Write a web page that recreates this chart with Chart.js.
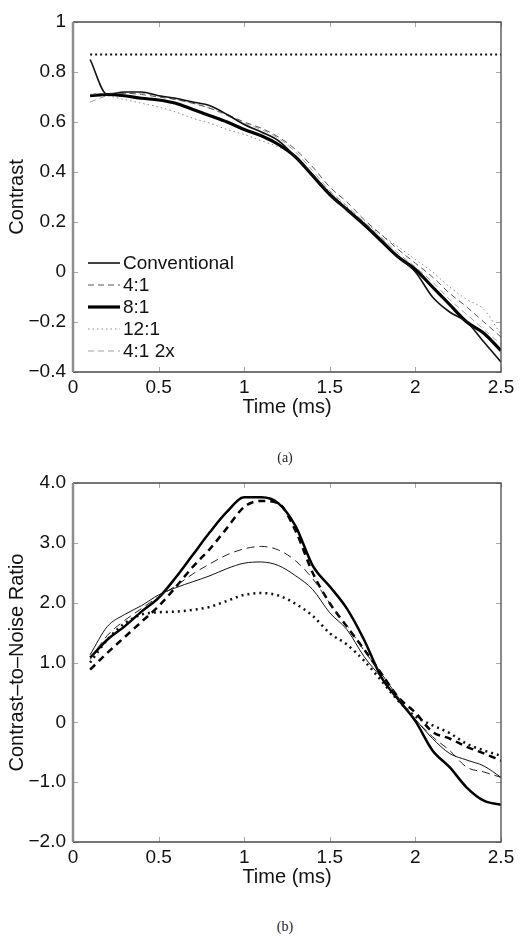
<!DOCTYPE html>
<html>
<head>
<meta charset="utf-8">
<script src="https://cdn.jsdelivr.net/npm/chart.js@4.4.0/dist/chart.umd.min.js"></script>
<style>
body { margin: 0; background: #fff; }
#wrap { position: relative; width: 529px; height: 946px; overflow: hidden; }
canvas { position: absolute; left: 0; }
.cap { position: absolute; left: 0; width: 570px; text-align: center; font-family: "Liberation Serif", "DejaVu Serif", serif; font-size: 14px; color: #222; line-height: 18px; }
</style>
</head>
<body>
<div id="wrap">
  <canvas id="contrastChart" width="529" height="420" style="top:0"></canvas>
  <canvas id="cnrChart" width="529" height="450" style="top:440px"></canvas>
  <div class="cap" style="top:449px">(a)</div>
  <div class="cap" style="top:918px">(b)</div>
</div>
<script>
// time axis shared by every curve (ms)
const timeMs = [0.1, 0.2, 0.3, 0.4, 0.5, 0.6, 0.7, 0.8, 0.9, 1.0, 1.1, 1.2, 1.3,
                1.4, 1.5, 1.6, 1.7, 1.8, 1.9, 2.0, 2.1, 2.2, 2.3, 2.4, 2.5];

// (a) contrast
const contrastConventional = [0.85, 0.71, 0.72, 0.72, 0.705, 0.695, 0.68, 0.665, 0.63, 0.59, 0.56, 0.525, 0.46,
                              0.39, 0.31, 0.25, 0.19, 0.13, 0.06, 0.0, -0.10, -0.16, -0.20, -0.28, -0.36];
const contrast4to1 = [0.71, 0.715, 0.715, 0.71, 0.70, 0.69, 0.675, 0.655, 0.63, 0.60, 0.575, 0.54, 0.49,
                      0.42, 0.34, 0.28, 0.21, 0.15, 0.09, 0.035, -0.02, -0.085, -0.14, -0.20, -0.26];
const contrast8to1 = [0.705, 0.71, 0.705, 0.695, 0.688, 0.675, 0.65, 0.625, 0.60, 0.57, 0.545, 0.51, 0.46,
                      0.385, 0.31, 0.25, 0.19, 0.125, 0.06, 0.01, -0.06, -0.13, -0.20, -0.245, -0.315];
const contrast12to1 = [0.71, 0.705, 0.69, 0.675, 0.66, 0.64, 0.615, 0.595, 0.57, 0.55, 0.525, 0.50, 0.46,
                       0.39, 0.32, 0.26, 0.20, 0.15, 0.10, 0.05, 0.0, -0.06, -0.11, -0.15, -0.25];
const contrast4to1x2 = [0.68, 0.705, 0.715, 0.715, 0.705, 0.69, 0.675, 0.655, 0.625, 0.595, 0.57, 0.535, 0.48,
                        0.405, 0.325, 0.265, 0.20, 0.14, 0.075, 0.02, -0.04, -0.11, -0.17, -0.23, -0.29];
const refTime = [0.1, 2.5];
const refContrast = [0.87, 0.87];

// (b) contrast-to-noise ratio
const cnrConventional = [1.13, 1.60, 1.80, 1.95, 2.13, 2.25, 2.35, 2.45, 2.57, 2.66, 2.68, 2.62, 2.45,
                         2.22, 1.83, 1.55, 1.10, 0.75, 0.38, 0.05, -0.27, -0.52, -0.63, -0.73, -0.92];
const cnr4to1 = [1.05, 1.45, 1.70, 1.90, 2.10, 2.28, 2.48, 2.65, 2.80, 2.90, 2.94, 2.88, 2.70,
                 2.40, 1.99, 1.62, 1.20, 0.82, 0.42, 0.05, -0.24, -0.47, -0.75, -0.83, -0.92];
const cnr8to1 = [1.08, 1.38, 1.60, 1.85, 2.08, 2.42, 2.80, 3.18, 3.52, 3.76, 3.76, 3.66, 3.28,
                 2.62, 2.27, 1.90, 1.38, 0.76, 0.38, 0.02, -0.47, -0.75, -1.09, -1.31, -1.38];
const cnr12to1 = [1.0, 1.38, 1.65, 1.80, 1.84, 1.85, 1.88, 1.93, 2.03, 2.13, 2.16, 2.12, 1.98,
                  1.78, 1.49, 1.30, 1.03, 0.70, 0.36, 0.10, -0.05, -0.18, -0.36, -0.47, -0.56];
const cnr4to1x2 = [0.88, 1.16, 1.42, 1.68, 1.94, 2.26, 2.60, 2.90, 3.25, 3.60, 3.70, 3.66, 3.20,
                   2.50, 1.99, 1.60, 1.22, 0.82, 0.42, 0.16, -0.16, -0.27, -0.41, -0.52, -0.64];

const FONT = '"Liberation Sans", Arial, Helvetica, sans-serif';

function pts(xs, ys) {
    return xs.map((t, i) => ({ x: t, y: ys[i] }));
}

function tickText(v, oneDecimal) {
    const r = Math.round(v * 10) / 10;
    if (r === 0) return '0';
    let s = oneDecimal ? r.toFixed(1) : String(r);
    return s.replace('-', '\u2212');
}

// box around the plot with small inward ticks on all four sides
const framePlugin = {
    id: 'frame',
    afterDatasetsDraw(chart) {
        const { ctx, chartArea: a, scales } = chart;
        const x = scales.x, y = scales.y;
        ctx.save();
        ctx.setLineDash([]);
        ctx.strokeStyle = '#a8a8a8';
        ctx.lineWidth = 1;
        x.ticks.forEach(t => {
            const px = Math.round(x.getPixelForValue(t.value)) + 0.5;
            ctx.beginPath();
            ctx.moveTo(px, a.bottom); ctx.lineTo(px, a.bottom - 5);
            ctx.moveTo(px, a.top); ctx.lineTo(px, a.top + 5);
            ctx.stroke();
        });
        y.ticks.forEach(t => {
            const py = Math.round(y.getPixelForValue(t.value)) + 0.5;
            ctx.beginPath();
            ctx.moveTo(a.left, py); ctx.lineTo(a.left + 5, py);
            ctx.moveTo(a.right, py); ctx.lineTo(a.right - 5, py);
            ctx.stroke();
        });
        ctx.strokeStyle = '#4a4a4a';
        ctx.lineWidth = 1.3;
        ctx.beginPath();
        ctx.moveTo(a.left, a.top); ctx.lineTo(a.right, a.top);
        ctx.lineTo(a.right, a.bottom); ctx.lineTo(a.left, a.bottom);
        ctx.stroke();
        ctx.strokeStyle = '#8e8e8e';
        ctx.lineWidth = 2.5;
        ctx.beginPath();
        ctx.moveTo(a.left, a.top); ctx.lineTo(a.left, a.bottom);
        ctx.stroke();
        ctx.restore();
    }
};

// legend drawn inside the plot, lower left
const insideLegend = {
    id: 'insideLegend',
    afterDraw(chart) {
        const o = chart.options.plugins.insideLegend;
        if (!o || !o.show) return;
        const { ctx, chartArea: a } = chart;
        ctx.save();
        ctx.font = '19px ' + FONT;
        ctx.textBaseline = 'middle';
        ctx.fillStyle = '#111';
        chart.data.datasets.filter(d => !d.noLegend).forEach((d, i) => {
            const yy = a.bottom - o.fromBottom + i * o.rowHeight;
            const x0 = a.left + o.left;
            ctx.strokeStyle = d.borderColor;
            ctx.lineWidth = d.borderWidth;
            ctx.setLineDash(d.borderDash || []);
            ctx.beginPath();
            ctx.moveTo(x0, yy); ctx.lineTo(x0 + o.lineLen, yy);
            ctx.stroke();
            ctx.fillText(d.label, x0 + o.lineLen + 3, yy + 1);
        });
        ctx.restore();
    }
};

function line(label, xs, ys, color, width, dash, extra) {
    return Object.assign({
        label: label,
        data: pts(xs, ys),
        borderColor: color,
        borderWidth: width,
        borderDash: dash,
        pointRadius: 0,
        fill: false,
        cubicInterpolationMode: 'monotone'
    }, extra || {});
}

function makeOptions(cfg) {
    return {
        responsive: false,
        animation: false,
        events: [],
        layout: { padding: { left: 0, right: 28, top: cfg.top, bottom: 0 } },
        plugins: {
            legend: { display: false },
            tooltip: { enabled: false },
            insideLegend: cfg.legend
        },
        scales: {
            x: {
                type: 'linear',
                min: 0, max: 2.5,
                grid: { display: false, drawTicks: false },
                border: { display: false },
                ticks: {
                    stepSize: 0.5,
                    padding: 4,
                    color: '#111',
                    font: { family: FONT, size: 19 },
                    maxRotation: 0,
                    callback: v => tickText(v, false)
                },
                title: {
                    display: true,
                    text: 'Time (ms)',
                    color: '#111',
                    font: { family: FONT, size: 20 },
                    padding: { top: 0, bottom: 1 }
                },
                afterFit: s => { s.height = 48; }
            },
            y: {
                type: 'linear',
                min: cfg.ymin, max: cfg.ymax,
                grid: { display: false, drawTicks: false },
                border: { display: false },
                ticks: {
                    stepSize: cfg.step,
                    padding: 7,
                    color: '#111',
                    font: { family: FONT, size: 19 },
                    callback: v => tickText(v, cfg.oneDecimal)
                },
                title: {
                    display: true,
                    text: cfg.ytitle,
                    color: '#111',
                    font: { family: FONT, size: 20 },
                    padding: { top: 5, bottom: 0 }
                },
                afterFit: s => { s.width = 73; }
            }
        }
    };
}

new Chart(document.getElementById('contrastChart'), {
    type: 'line',
    data: {
        datasets: [
            line('Conventional', timeMs, contrastConventional, '#111', 1.6, []),
            line('4:1', timeMs, contrast4to1, '#555', 1, [6, 4]),
            line('8:1', timeMs, contrast8to1, '#000', 3.2, []),
            line('12:1', timeMs, contrast12to1, '#8a8a8a', 1, [1.5, 3]),
            line('4:1 2x', timeMs, contrast4to1x2, '#a0a0a0', 1, [6, 4]),
            line('', refTime, refContrast, '#111', 2, [2, 3], { noLegend: true, cubicInterpolationMode: 'default' })
        ]
    },
    options: makeOptions({
        top: 22, ymin: -0.4, ymax: 1, step: 0.2, oneDecimal: false, ytitle: 'Contrast',
        legend: { show: true, left: 15, fromBottom: 109, rowHeight: 22, lineLen: 32 }
    }),
    plugins: [framePlugin, insideLegend]
});

new Chart(document.getElementById('cnrChart'), {
    type: 'line',
    data: {
        datasets: [
            line('Conventional', timeMs, cnrConventional, '#111', 1, []),
            line('4:1', timeMs, cnr4to1, '#222', 1, [8, 5]),
            line('8:1', timeMs, cnr8to1, '#000', 2.5, []),
            line('12:1', timeMs, cnr12to1, '#111', 2.5, [2, 4]),
            line('4:1 2x', timeMs, cnr4to1x2, '#000', 2.5, [7, 5])
        ]
    },
    options: makeOptions({
        top: 43, ymin: -2, ymax: 4, step: 1, oneDecimal: true, ytitle: 'Contrast\u2013to\u2013Noise Ratio',
        legend: { show: false }
    }),
    plugins: [framePlugin, insideLegend]
});
</script>
</body>
</html>
